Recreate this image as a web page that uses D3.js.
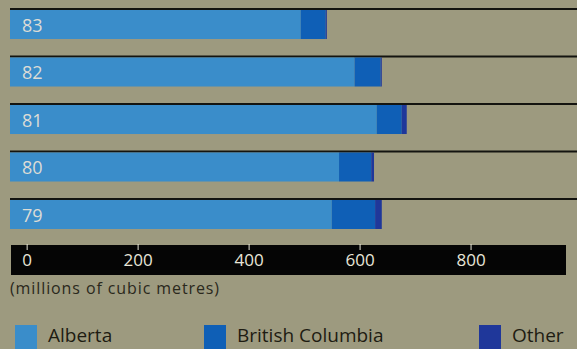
<!DOCTYPE html>
<html>
<head>
<meta charset="utf-8">
<script src="https://cdn.jsdelivr.net/npm/d3@7"></script>
<style>
  body { margin: 0; background: #9d9a7f; }
  svg { display: block; }
</style>
</head>
<body>
<div id="chart-area"></div>
<script>
var years = ["83", "82", "81", "80", "79"];
var alberta = [494, 591, 631, 563, 550];
var britishColumbia = [45, 47, 45, 58, 78];
var other = [2, 2, 9, 5, 12];
var tickValues = [0, 200, 400, 600, 800];
var seriesNames = ["Alberta", "British Columbia", "Other"];
var colors = ["#3a8dca", "#0f5fb6", "#1f379a"];

var width = 577;
var height = 349;

var svg = d3.select("#chart-area").append("svg")
	.attr("width", width)
	.attr("height", height);

svg.append("rect")
	.attr("width", width)
	.attr("height", height)
	.attr("fill", "#9d9a7f");

// rows for the stack
var rows = years.map((y, i) => {
	return {year: y, "Alberta": alberta[i], "British Columbia": britishColumbia[i], "Other": other[i]};
});
var stacked = d3.stack().keys(seriesNames)(rows);

// bars start a bit left of the zero tick, like the original
var x = d3.scaleLinear()
	.domain([-30, 972])
	.range([10, 566]);

var y = d3.scaleBand()
	.domain(years)
	.range([8, 229])
	.paddingInner(0.347)
	.paddingOuter(0);

var color = d3.scaleOrdinal()
	.domain(seriesNames)
	.range(colors);

// black rules above each bar
svg.selectAll("line.rule")
	.data(years)
	.enter()
	.append("line")
		.attr("class", "rule")
		.attr("x1", x(-30))
		.attr("x2", width)
		.attr("y1", (d) => y(d) + 1)
		.attr("y2", (d) => y(d) + 1)
		.attr("stroke", "#141410")
		.attr("stroke-width", 2);

var groups = svg.selectAll("g.series")
	.data(stacked)
	.enter()
	.append("g")
		.attr("class", "series")
		.attr("fill", (d) => color(d.key));

groups.selectAll("rect")
	.data((d) => d)
	.enter()
	.append("rect")
		.attr("x", (d) => d[0] === 0 ? x(-30) : x(d[0]))
		.attr("y", (d) => y(d.data.year) + 2)
		.attr("width", (d) => (x(d[1]) - (d[0] === 0 ? x(-30) : x(d[0]))))
		.attr("height", y.bandwidth() - 2);

// year labels
svg.selectAll("text.year")
	.data(years)
	.enter()
	.append("text")
		.attr("class", "year")
		.attr("x", 22)
		.attr("y", (d) => y(d) + 24)
		.attr("font-family", "Open Sans")
		.attr("font-size", "18px")
		.attr("fill", "#dcdcd6")
		.text((d) => d);

// axis band
svg.append("rect")
	.attr("x", 11)
	.attr("y", 245)
	.attr("width", 555)
	.attr("height", 30)
	.attr("fill", "#050505");

var bottomAxis = d3.axisBottom(x)
	.tickValues(tickValues)
	.tickSize(6)
	.tickPadding(4)
	.tickFormat(d3.format("d"));

var axisG = svg.append("g")
	.attr("class", "bottomAxis")
	.attr("transform", "translate(0, 244)")
	.call(bottomAxis);
axisG.select(".domain").remove();
axisG.selectAll("line").attr("stroke", "#e8e6d8");
axisG.selectAll("text")
	.attr("fill", "#e8e6d8")
	.attr("font-family", "Open Sans")
	.attr("font-size", "17px");

svg.append("text")
	.attr("x", 10)
	.attr("y", 294)
	.attr("font-family", "Open Sans")
	.attr("font-size", "16px")
	.attr("letter-spacing", "0.9px")
	.attr("fill", "#2a281c")
	.text("(millions of cubic metres)");

// legend
var legendX = [15, 204, 479];
var legend = svg.selectAll("g.legend")
	.data(seriesNames)
	.enter()
	.append("g")
		.attr("class", "legend")
		.attr("transform", (d, i) => "translate(" + legendX[i] + ", 325)");
legend.append("rect")
	.attr("width", 22)
	.attr("height", 24)
	.attr("fill", (d) => color(d));
legend.append("text")
	.attr("x", 33)
	.attr("y", 17)
	.attr("font-family", "Open Sans")
	.attr("font-size", "19px")
	.attr("fill", "#1e1c12")
	.text((d) => d);
</script>
</body>
</html>
